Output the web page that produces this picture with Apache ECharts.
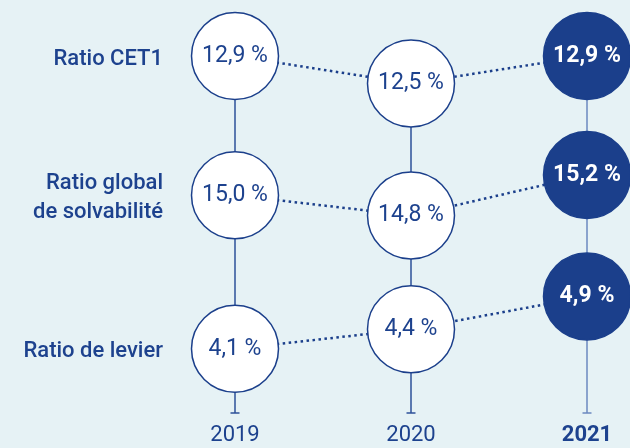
<!DOCTYPE html>
<html>
<head>
<meta charset="utf-8">
<script src="https://cdn.jsdelivr.net/npm/echarts@6/dist/echarts.min.js"></script>
<style>
  html, body { margin: 0; padding: 0; background: #e6f2f5; }
  #main { width: 630px; height: 448px; }
</style>
</head>
<body>
<div id="main"></div>
<script>
// données
var years = ['2019', '2020', '2021'];
var rowNames = ['Ratio CET1', 'Ratio global\nde solvabilité', 'Ratio de levier'];
var cet1 = [12.9, 12.5, 12.9];
var solvabilite = [15.0, 14.8, 15.2];
var levier = [4.1, 4.4, 4.9];
var rows = [cet1, solvabilite, levier];

// échelles cachées, une par ratio
var axisRanges = [[7.707, 13.715], [12.850, 16.929], [3.116, 9.444]];

var navy = '#1b3f8b';
var textBlue = '#1d428e';

function fmt(v) {
    return v.toFixed(1).replace('.', ',') + ' %';
}

var series = [];

// traits verticaux
for (var i = 0; i < years.length; i++) {
    series.push({
        type: 'line',
        yAxisIndex: 0,
        z: 1,
        silent: true,
        showSymbol: true,
        lineStyle: { color: i === 2 ? '#6b89bf' : '#2d5199', width: 1.5 },
        itemStyle: { color: i === 2 ? '#6b89bf' : '#2d5199' },
        data: [
            { value: [years[i], cet1[i]], symbol: 'none' },
            { value: [years[i], axisRanges[0][0]], symbol: 'rect', symbolSize: [9, 1.5] }
        ]
    });
}

// cercles + pointillés
rows.forEach(function(row, r) {
    series.push({
        type: 'line',
        yAxisIndex: r,
        z: 3,
        symbol: 'circle',
        symbolSize: 87,
        lineStyle: { color: navy, width: 2.5, type: [2.5, 3.5] },
        itemStyle: { color: '#ffffff', borderColor: navy, borderWidth: 1.5 },
        label: {
            show: true,
            position: 'inside',
            fontFamily: 'Roboto',
            fontSize: 23,
            color: textBlue,
            formatter: function(p) { return fmt(p.value[1]); }
        },
        data: row.map(function(v, i) {
            var d = { value: [years[i], v] };
            if (i === 2) {
                d.itemStyle = { color: navy, borderColor: navy };
                d.label = { color: '#ffffff', fontWeight: 'bold' };
            }
            return d;
        })
    });
    // libellé de la ligne
    series.push({
        type: 'scatter',
        yAxisIndex: r,
        z: 4,
        symbolSize: 0,
        silent: true,
        itemStyle: { opacity: 1 },
        label: {
            show: true,
            position: 'left',
            distance: 72,
            offset: [0, 3],
            align: 'right',
            fontFamily: 'Roboto',
            fontSize: 22,
            fontWeight: 500,
            lineHeight: 29,
            color: textBlue,
            opacity: 1,
            formatter: rowNames[r]
        },
        data: [[years[0], row[0]]]
    });
});

var yAxes = axisRanges.map(function(rg) {
    return { type: 'value', min: rg[0], max: rg[1], show: false };
});

var chart = echarts.init(document.getElementById('main'));
chart.setOption({
    animation: false,
    backgroundColor: '#e6f2f5',
    grid: { left: 235, right: 43, top: 0, bottom: 35 },
    xAxis: {
        type: 'category',
        data: years,
        boundaryGap: false,
        axisLine: { show: false },
        axisTick: { show: false },
        splitLine: { show: false },
        axisLabel: {
            margin: 11,
            fontFamily: 'Roboto',
            fontSize: 22,
            color: textBlue,
            formatter: function(v) { return v === '2021' ? '{b|' + v + '}' : v; },
            rich: { b: { fontFamily: 'Roboto', fontSize: 22, fontWeight: 'bold', color: textBlue } }
        }
    },
    yAxis: yAxes,
    series: series
});
</script>
</body>
</html>
